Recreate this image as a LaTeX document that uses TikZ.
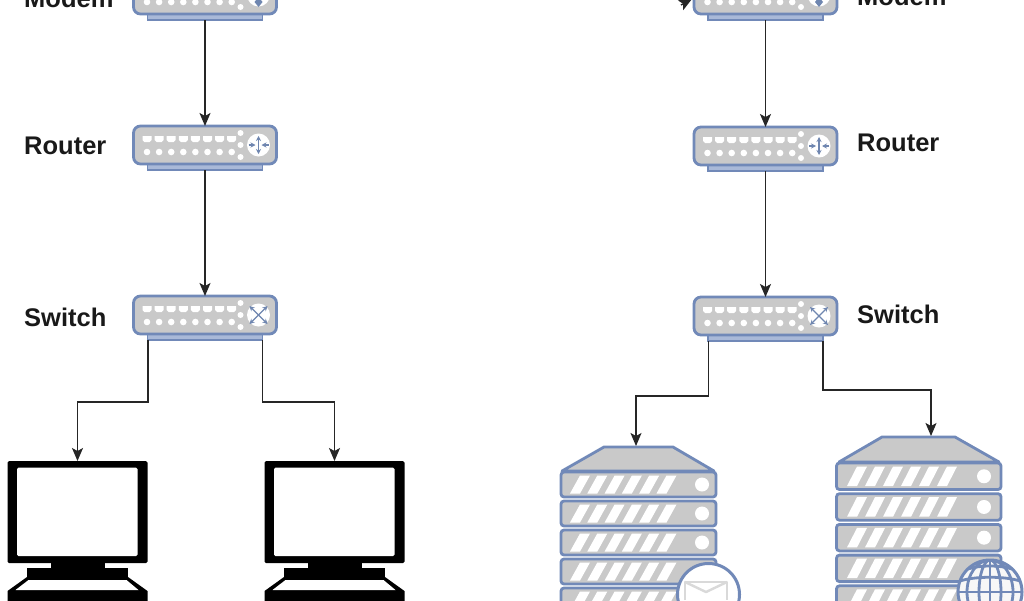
\documentclass[tikz,border=0pt]{standalone}
\usepackage{fontspec}
\setmainfont{Liberation Sans}
\usetikzlibrary{arrows.meta,calc}
\definecolor{devblue}{HTML}{7189B8}
\definecolor{devgrey}{HTML}{C9C9C9}
\definecolor{baseblue}{HTML}{A9B9D8}
\definecolor{iconblue}{HTML}{6F86B0}
\tikzset{
  devbody/.style={draw=devblue,line width=2.8pt,fill=devgrey,rounded corners=7pt},
  devbase/.style={draw=devblue,line width=1.6pt,fill=baseblue},
  devnode/.style={anchor=north west,minimum width=143pt,minimum height=44pt,inner sep=0pt,outer sep=0pt},
  srvnode/.style={anchor=north,inner sep=0pt,outer sep=0pt,minimum height=24pt},
  pcnode/.style={anchor=north west,minimum width=140pt,minimum height=102pt,inner sep=0pt,outer sep=0pt},
  conn/.style={draw=black!85,line width=1.4pt,-{Stealth[length=13pt,width=11pt,inset=3pt]}},
  lbl/.style={font=\fontsize{25.5}{30}\selectfont\bfseries,anchor=base west,inner sep=0pt,text=black!90},
  icon/.style={draw=iconblue,line width=1.3pt,{Stealth[length=5pt,width=5pt]}-{Stealth[length=5pt,width=5pt]}},
  iconin/.style={draw=iconblue,line width=1.3pt,-{Stealth[length=5pt,width=5pt]}},
  srvunit/.style={draw=devblue,line width=2.8pt,fill=devgrey,rounded corners=3pt},
}
\newcommand{\netdev}[4]{% name, x, y, icon code
  \node[devnode] (#1) at (#2,#3) {};
  \begin{scope}[shift={(#2,#3)}]
    \path[devbase] (14,38) rectangle (129,44);
    \path[devbody] (0,0) rectangle (143,38);
    \foreach \i in {0,...,7}{
      \fill[white] ({9+12.1*\i},10) -- ++(9,0) -- ++(0,4) -- ++(-2,2) -- ++(-5,0) -- ++(-2,-2) -- cycle;
      \fill[white] ({13.5+12.1*\i},26) circle (3.3pt);
    }
    \foreach \yy in {7,19,31}{\fill[white] (107,\yy) circle (3pt);}
    \fill[white] (125,19) circle (11.5pt);
    \begin{scope}[shift={(125,19)}]
      #4
    \end{scope}
  \end{scope}
}
\newcommand{\routericon}{%
  \path[icon] (0,-9) -- (0,9);
  \path[iconin] (-10,0) -- (-3,0);
  \path[iconin] (10,0) -- (3,0);
}
\newcommand{\switchicon}{%
  \path[icon] (-9,-9) -- (9,9);
  \path[icon] (-9,9) -- (9,-9);
}
\newcommand{\modemicon}{%
  \fill[iconblue] (0,2) -- (4,7) -- (0,12) -- (-4,7) -- cycle;
}
\newcommand{\pcscreen}[2]{% name, x
  \node[pcnode] (#1) at (#2,461) {};
  \begin{scope}[shift={(#2,461)}]
    \fill[black,rounded corners=1.5pt] (0,0) rectangle (140,102);
    \fill[white,rounded corners=1.5pt] (9.5,6.5) rectangle (130,95);
    \fill[black] (43.5,102) rectangle (97.5,107);
    \fill[black] (19.5,107) rectangle (120.5,117);
    \fill[black] (19.5,116) -- (0,130) -- (0,145) -- (140,145) -- (140,130) -- (120.5,116) -- cycle;
    \fill[white] (21,119) -- (119,119) -- (131,129) -- (8,129) -- cycle;
  \end{scope}
}
% name, unit left, unit right, first unit top, pitch, unit height, stripe start, stripe pitch, circle x
\newcommand{\srvstack}[9]{%
  \foreach \k in {0,...,4}{
    \pgfmathsetmacro{\ty}{#4+#5*\k}
    \path[srvunit] (#2,\ty) rectangle (#3,\ty+#6);
    \foreach \s in {0,...,5}{
      \fill[white] ({#7+#8*\s},\ty+#6-3.5) -- ++(10,0) -- ({#7+#8*\s+20},\ty+3.5) -- ++(-10,0) -- cycle;
    }
    \fill[white] (#9,\ty+#6/2) circle (7pt);
  }
}
\begin{document}
\begin{tikzpicture}[x=1pt,y=-1pt]
\useasboundingbox (0,0) rectangle (1024,600);
\fill[white] (0,0) rectangle (1024,600);
\clip (0,0) rectangle (1024,600);

% left column
\netdev{modemL}{133.5}{-24}{\modemicon}
\netdev{routerL}{133.5}{126}{\routericon}
\netdev{switchL}{133.5}{296}{\switchicon}
% right column
\netdev{modemR}{694}{-24}{\modemicon}
\netdev{routerR}{694}{127}{\routericon}
\netdev{switchR}{694}{297}{\switchicon}

% labels
\node[lbl] (tModemL) at (24,7) {Modem};
\node[lbl] (tRouterL) at (24,154) {Router};
\node[lbl] (tSwitchL) at (24,326) {Switch};
\node[lbl] (tModemR) at (857,5) {Modem};
\node[lbl] (tRouterR) at (857,151) {Router};
\node[lbl] (tSwitchR) at (857,323) {Switch};

% computers
\pcscreen{pcA}{7.5}
\pcscreen{pcB}{264.5}

% mail server
\node[srvnode,minimum width=156pt] (srvMail) at (638,446) {};
\path[draw=devblue,line width=2.8pt,fill=devgrey,line join=round] (604,447) -- (673,447) -- (714,471) -- (562,471) -- cycle;
\srvstack{srvMail}{561}{716}{472}{29}{25}{570}{17.3}{702}
\path[draw=devblue,line width=3pt,fill=white] (708.5,594.5) circle (31pt);
\fill[white] (685,581) rectangle (727,600);
\draw[devgrey!70,line width=2.4pt,line join=round] (685,600) -- (685,582) -- (727,582) -- (727,600);
\draw[devgrey!70,line width=2.4pt,line join=round] (685,582) -- (706,592) -- (727,582);

% web server
\node[srvnode,minimum width=165pt] (srvWeb) at (918.5,436) {};
\path[draw=devblue,line width=2.8pt,fill=devgrey,line join=round] (882,437) -- (955,437) -- (999,462) -- (839,462) -- cycle;
\srvstack{srvWeb}{836.5}{1001}{463}{30.7}{26.5}{847}{18}{984}
\path[fill=white!85!devgrey] (990,592) circle (32pt);
\begin{scope}
  \clip (990,592) circle (32pt);
  \foreach \rx in {11,23}{\draw[devblue,line width=2.8pt] (990,592) ellipse ({\rx pt} and 32pt);}
  \draw[devblue,line width=2.8pt] (990,555) -- (990,630);
  \draw[devblue,line width=2.8pt] (950,592) -- (1030,592);
  \draw[devblue,line width=2.8pt] (960,581) .. controls (975,576) and (1005,576) .. (1020,581);
  \draw[devblue,line width=2.8pt] (968,569) .. controls (980,565) and (1000,565) .. (1012,569);
\end{scope}
\draw[devblue,line width=3pt] (990,592) circle (32pt);

% connectors
\draw[conn] (modemL.south) -- (routerL.north);
\draw[conn] (routerL.south) -- (switchL.north);
\draw[conn] (modemR.south) -- (routerR.north);
\draw[conn] (routerR.south) -- (switchR.north);

\coordinate (elbowA) at (77.5,402);
\coordinate (elbowB) at (334.5,402);
\coordinate (elbowC) at (636,396);
\coordinate (elbowD) at (931,390);
\draw[conn] ($(switchL.south)+(-57,0)$) |- (elbowA) -- (pcA.north);
\draw[conn] ($(switchL.south)+(57.5,0)$) |- (elbowB) -- (pcB.north);
\draw[conn] ($(switchR.south)+(-57,0)$) |- (elbowC) -- (elbowC |- srvMail.north);
\draw[conn] ($(switchR.south)+(57.5,0)$) |- (elbowD) -- (elbowD |- srvWeb.north);

% arrow into right modem, tail beyond the top edge
\coordinate (topTail) at (681,5);
\coordinate (topTip) at (692,-1);
\draw[conn] (topTail) -- (topTip);
\end{tikzpicture}
\end{document}
